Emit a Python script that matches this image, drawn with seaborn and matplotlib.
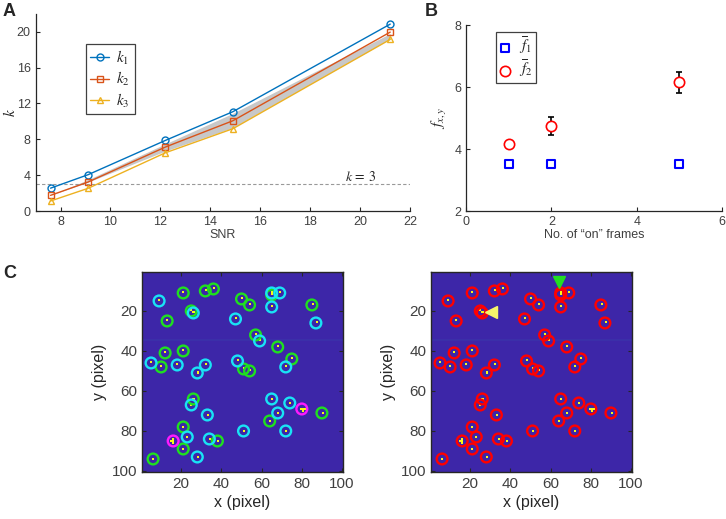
import numpy as np
import pandas as pd
import seaborn as sns
import matplotlib
matplotlib.use("Agg")
import matplotlib.pyplot as plt
from matplotlib.colors import LinearSegmentedColormap

# Panel A data
snr = [7.6, 9.1, 12.2, 14.9, 21.2]
k1 = [2.55, 4.05, 7.88, 11.08, 20.85]
k2 = [1.75, 3.23, 7.14, 10.07, 19.96]
k3 = [1.12, 2.53, 6.50, 9.18, 19.14]
band_low = [1.75, 3.23, 6.70, 9.30, 19.20]
band_high = [1.75, 3.50, 7.50, 10.90, 19.80]
k_threshold = 3

# Panel B data
frames = [1, 2, 5]
f1_mean = [3.51, 3.51, 3.51]
f1_err = [0.10, 0.10, 0.10]
f2_mean = [4.15, 4.74, 6.15]
f2_err = [0.05, 0.30, 0.35]

# Panel C data: detected emitters (pixel x, pixel y, class in left map)
pt_x = [21, 32, 36, 9, 50, 54, 65, 65, 69, 65, 85, 87, 25, 26, 13, 47, 57, 59, 68, 12,
        21, 5, 10, 18, 32, 28, 48, 51, 54, 75, 72, 26, 25, 33, 65, 74, 80, 90, 68, 64,
        72, 51, 21, 23, 16, 34, 38, 21, 28, 6]
pt_y = [11, 10, 9, 15, 14, 17, 11, 12, 11, 18, 17, 26, 20, 21, 25, 24, 32, 35, 38, 41,
        40, 46, 48, 47, 47, 51, 45, 49, 50, 44, 48, 64, 67, 72, 64, 66, 69, 71, 71, 75,
        80, 80, 78, 83, 85, 84, 85, 89, 93, 94]
pt_cls = ["g", "g", "g", "c", "g", "g", "c", "g", "c", "c", "g", "c", "g", "c", "g", "c", "g", "c", "g", "g",
          "g", "c", "g", "c", "c", "c", "c", "g", "g", "g", "c", "g", "c", "c", "c", "c", "m", "g", "c", "g",
          "c", "c", "g", "c", "m", "c", "g", "g", "c", "g"]
# extra bright pixels forming small clusters
cluster_x = [79, 81, 80, 15, 16, 16]
cluster_y = [69, 69, 70, 85, 84, 86]
stripe_row = 35
# arrows in right map
arrow_green = (64, 5.5)
arrow_yellow = (30.5, 20.3)

sns.set_style("ticks")
plt.rcParams["font.family"] = ["Liberation Sans", "DejaVu Sans"]
plt.rcParams["mathtext.fontset"] = "stix"
plt.rcParams["xtick.direction"] = "in"
plt.rcParams["ytick.direction"] = "in"
plt.rcParams["axes.edgecolor"] = "#262626"
plt.rcParams["axes.linewidth"] = 0.9
plt.rcParams["xtick.color"] = "#262626"
plt.rcParams["ytick.color"] = "#262626"
plt.rcParams["xtick.labelcolor"] = "#404040"
plt.rcParams["ytick.labelcolor"] = "#404040"

fig = plt.figure(figsize=(7.26, 5.19), dpi=100)

# ---------- A ----------
axA = fig.add_axes([0.049, 0.5934, 0.516, 0.380])
axA.fill_between(snr, band_low, band_high, color="#c8c8c8", lw=0, zorder=1)
axA.axhline(k_threshold, color="#999999", ls="--", lw=0.8, dashes=(3, 2), zorder=1)
series = [(k1, "#0072BD", "o", r"$k_1$"), (k2, "#D95319", "s", r"$k_2$"),
          (k3, "#EDB120", "^", r"$k_3$")]
for vals, col, mk, lab in series:
    sns.lineplot(x=snr, y=vals, ax=axA, color=col, marker=mk, markersize=5,
                 markerfacecolor="none", markeredgecolor=col, markeredgewidth=1.0,
                 lw=1.0, label=lab, zorder=3)
axA.text(19.4, 3.4, r"$k\,=\,3$", fontsize=10, color="#262626")
axA.set_xlim(7, 22)
axA.set_ylim(0, 22)
axA.set_xticks([8, 10, 12, 14, 16, 18, 20, 22])
axA.set_yticks([0, 4, 8, 12, 16, 20])
axA.tick_params(labelsize=9, length=3, width=0.8)
axA.set_xlabel("SNR", fontsize=9, color="#404040", labelpad=1)
axA.set_ylabel(r"$k$", fontsize=11, color="#262626")
axA.yaxis.set_label_coords(-0.048, 0.5)
legA = axA.legend(loc="upper left", bbox_to_anchor=(0.134, 0.846), fontsize=11,
                  fancybox=False, edgecolor="#404040", framealpha=1, borderaxespad=0,
                  handlelength=1.2, handletextpad=0.5, borderpad=0.3, labelspacing=0.22)
legA.get_frame().set_linewidth(0.9)
sns.despine(ax=axA)

# ---------- B ----------
axB = fig.add_axes([0.642, 0.5934, 0.3526, 0.3584])
axB.errorbar(frames, f1_mean, yerr=f1_err, fmt="none", ecolor="black", elinewidth=1.2,
             capsize=2, capthick=1.2, zorder=2)
axB.errorbar(frames, f2_mean, yerr=f2_err, fmt="none", ecolor="black", elinewidth=1.2,
             capsize=2, capthick=1.2, zorder=2)
sns.scatterplot(x=frames, y=f1_mean, ax=axB, marker="s", s=40, facecolor="white",
                edgecolor="#0000ff", linewidth=1.5, label=r"$\overline{f}_1$", zorder=3)
sns.scatterplot(x=frames, y=f2_mean, ax=axB, marker="o", s=55, facecolor="white",
                edgecolor="#ff0000", linewidth=1.2, label=r"$\overline{f}_2$", zorder=3)
axB.set_xlim(0, 6)
axB.set_ylim(2, 8)
axB.set_xticks([0, 2, 4, 6])
axB.set_yticks([2, 4, 6, 8])
axB.tick_params(labelsize=9, length=3, width=0.8)
axB.set_xlabel("No. of \u201con\u201d frames", fontsize=9, color="#404040", labelpad=1)
axB.set_ylabel(r"$f_{x,y}$", fontsize=11, color="#262626", labelpad=4)
legB = axB.legend(loc="upper left", bbox_to_anchor=(0.117, 0.961), fontsize=11,
                  fancybox=False, edgecolor="#404040", framealpha=1, borderaxespad=0,
                  handlelength=0.8, handletextpad=0.5, borderpad=0.2, labelspacing=0.05)
legB.get_frame().set_linewidth(0.9)
sns.despine(ax=axB)

# ---------- C ----------
parula = LinearSegmentedColormap.from_list(
    "parula_like", [(0.0, (0.2422, 0.1504, 0.6603)), (0.5, (0.0704, 0.7457, 0.7258)),
                    (1.0, (0.9769, 0.9839, 0.0805))])
img = np.zeros((100, 100))
img[stripe_row - 1, :] = 0.035
for x, y in zip(pt_x + cluster_x, pt_y + cluster_y):
    img[y - 1, x - 1] = 1.0

class_colors = {"g": "#1fe01f", "c": "#19e3f5", "m": "#ff1aff"}
pts = pd.DataFrame({"x": pt_x, "y": pt_y, "cls": pt_cls})

def map_axes(rect):
    ax = fig.add_axes(rect)
    ax.imshow(img, cmap=parula, vmin=0, vmax=1, extent=(0.5, 100.5, 100.5, 0.5),
              interpolation="nearest", aspect="auto")
    ax.set_xlim(0.5, 100.5)
    ax.set_ylim(100.5, 0.5)
    ax.set_xticks([20, 40, 60, 80, 100])
    ax.set_yticks([20, 40, 60, 80, 100])
    ax.tick_params(labelsize=11, length=3, width=0.8, top=True, right=True)
    for sp in ax.spines.values():
        sp.set_linewidth(1.0)
    return ax

axC1 = map_axes([0.1956, 0.0906, 0.2769, 0.3854])
for cls, col in class_colors.items():
    sub = pts[pts["cls"] == cls]
    sns.scatterplot(data=sub, x="x", y="y", ax=axC1, marker="o", s=60,
                    facecolor="none", edgecolor=col, linewidth=1.7, zorder=3, legend=False)

axC2 = map_axes([0.5937, 0.0906, 0.2769, 0.3854])
sns.scatterplot(data=pts, x="x", y="y", ax=axC2, marker="o", s=60,
                facecolor="none", edgecolor="#ff0000", linewidth=1.7, zorder=3, legend=False)
axC2.plot(*arrow_green, marker="v", ms=8, color="#22dd22", zorder=4)
axC2.plot(*arrow_yellow, marker="<", ms=8, color="#f5f56a", zorder=4)
for ax in (axC1, axC2):
    ax.set_xlabel("x (pixel)", fontsize=11.5, color="#262626", labelpad=3)
    ax.set_ylabel("y (pixel)", fontsize=11.5, color="#262626", labelpad=3)

fig.text(0.004, 0.995, "A", fontsize=13, fontweight="bold", va="top")
fig.text(0.585, 0.995, "B", fontsize=13, fontweight="bold", va="top")
fig.text(0.004, 0.49, "C", fontsize=13, fontweight="bold", va="top")

fig.savefig("out.png", dpi=100)
